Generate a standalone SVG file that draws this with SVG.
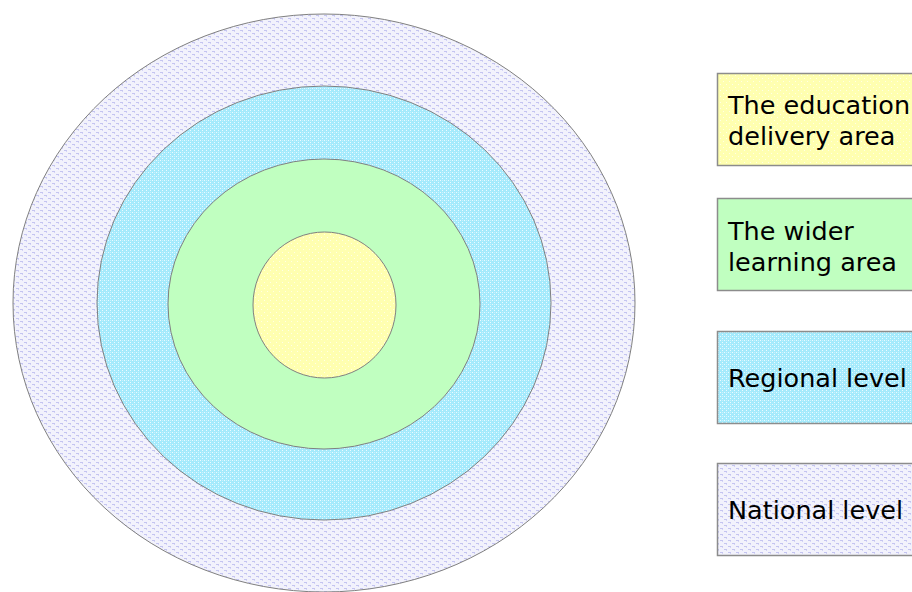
<svg xmlns="http://www.w3.org/2000/svg" width="912" height="592" viewBox="0 0 912 592">
  <defs>
    <pattern id="patNational" width="8" height="6" patternUnits="userSpaceOnUse">
      <rect width="8" height="6" fill="#f2f2fc"/>
      <rect x="0" y="0" width="3" height="1" fill="#c4c4f0"/>
      <rect x="4" y="3" width="3" height="1" fill="#c4c4f0"/>
      <rect x="2" y="1" width="1" height="1" fill="#d4d4f6"/>
      <rect x="6" y="4" width="1" height="1" fill="#d4d4f6"/>
    </pattern>
    <pattern id="patRegional" width="4" height="4" patternUnits="userSpaceOnUse">
      <rect width="4" height="4" fill="#a4eafc"/>
      <rect x="0" y="0" width="1" height="1" fill="#eafaff"/>
      <rect x="2" y="2" width="1" height="1" fill="#eafaff"/>
      <rect x="2" y="0" width="1" height="1" fill="#c8f2fd"/>
    </pattern>
    <pattern id="patDelivery" width="6" height="6" patternUnits="userSpaceOnUse">
      <rect width="6" height="6" fill="#ffffb0"/>
      <rect x="0" y="0" width="1" height="1" fill="#ffffe6"/>
      <rect x="3" y="3" width="1" height="1" fill="#ffffe6"/>
    </pattern>
  </defs>
  <style>
    .ring { stroke: #808080; stroke-width: 1; }
    .box { stroke: #8c8c8c; stroke-width: 1.5; }
    .label { font-family: "DejaVu Sans", Verdana, sans-serif; font-size: 25.5px; fill: #000; }
  </style>
  <rect width="912" height="592" fill="#ffffff"/>

  <g id="rings">
    <ellipse id="ring-national" class="ring" cx="324" cy="303" rx="311" ry="289" fill="url(#patNational)"/>
    <ellipse id="ring-regional" class="ring" cx="324" cy="303" rx="227" ry="217" fill="url(#patRegional)"/>
    <ellipse id="ring-wider" class="ring" cx="324" cy="304" rx="156" ry="145" fill="#c0ffc0"/>
    <ellipse id="ring-delivery" class="ring" cx="324.5" cy="305" rx="71.5" ry="73" fill="url(#patDelivery)"/>
  </g>

  <g id="connectors"></g>

  <g id="legend-delivery">
    <rect class="box" x="717.5" y="73.5" width="200" height="92" fill="url(#patDelivery)"/>
    <text class="label" x="728" y="114">The education</text>
    <text class="label" x="728" y="145">delivery area</text>
  </g>
  <g id="legend-wider">
    <rect class="box" x="717.5" y="198.5" width="200" height="92" fill="#c0ffc0"/>
    <text class="label" x="728" y="240">The wider</text>
    <text class="label" x="728" y="271">learning area</text>
  </g>
  <g id="legend-regional">
    <rect class="box" x="717.5" y="331.5" width="200" height="92" fill="url(#patRegional)"/>
    <text class="label" x="728" y="387">Regional level</text>
  </g>
  <g id="legend-national">
    <rect class="box" x="717.5" y="463.5" width="200" height="92" fill="url(#patNational)"/>
    <text class="label" x="728" y="519">National level</text>
  </g>
</svg>
